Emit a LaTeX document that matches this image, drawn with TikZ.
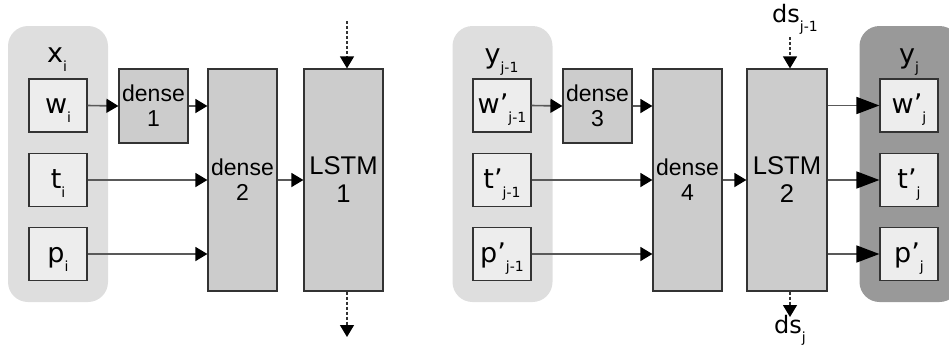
\documentclass[tikz,border=0pt]{standalone}
\usepackage{fontspec}
\setmainfont{Liberation Sans}
\newfontfamily\dejavu{DejaVu Sans}
\usetikzlibrary{arrows.meta}

\newcommand{\lo}[1]{\raisebox{-4.5pt}{\fontsize{7}{8}\selectfont #1}}

\tikzset{
	group/.style={rounded corners=10pt, minimum width=50pt, minimum height=138pt, inner sep=0pt},
	tag/.style={anchor=base, inner sep=0pt, font=\dejavu\fontsize{13.5}{15}\selectfont},
	var/.style={draw=black!80, fill=black!7, line width=0.6pt, minimum width=29pt, minimum height=26.5pt, inner sep=0pt, text height=9pt, text depth=1pt, font=\dejavu\fontsize{13.5}{15}\selectfont},
	layer/.style={draw=black!80, fill=black!20, line width=0.6pt, inner sep=0pt, align=center, font=\fontsize{11.5}{12.5}\selectfont},
	feed/.style={draw=black!65, line width=0.8pt, -{Triangle[length=6pt, width=7pt, color=black]}},
	emit/.style={draw=black!65, line width=0.8pt, -{Triangle[length=11.5pt, width=8.5pt, color=black]}},
	state/.style={draw=black!80, line width=0.6pt, dash pattern=on 1.5pt off 1pt, -{Triangle[length=6pt, width=7pt, color=black]}}
}

\begin{document}
\begin{tikzpicture}[x=0.5pt, y=-0.5pt]
			\clip[use as bounding box] (0,0) rectangle (949,360);
			
			% encoder side
			\node[group, fill=black!13] (X) at (58,164) {};
			\node[tag] (xl) at (57,62) {x\lo{i}};
			\node[var] (w0) at (58,105.5) {w\lo{i}};
			\node[var] (t0) at (58,180) {t\lo{i}};
			\node[var] (p0) at (58,254) {p\lo{i}};
			
			\node[layer, minimum width=34.5pt, minimum height=37pt] (d1) at (153.5,106) {dense\\1};
			\node[layer, minimum width=34.5pt, minimum height=111pt] (d2) at (242.5,180) {dense\\2};
			\node[layer, minimum width=39.5pt, minimum height=111pt, font=\fontsize{12.8}{14}\selectfont] (L1) at (343.5,180) {LSTM\\1};
			
			\draw[feed] (w0.east) -- (d1.west);
			\draw[feed] (d1.east) -- (d1.east -| d2.west);
			\draw[feed] (t0.east) -- (t0.east -| d2.west);
			\draw[feed] (p0.east) -- (p0.east -| d2.west);
			\draw[feed] (d2.east) -- (L1.west);
			
			\coordinate (s0) at (347,21);
			\coordinate (s1) at (347,337);
			\draw[state] (s0) -- (s0 |- L1.north);
			\draw[state] (s1 |- L1.south) -- (s1);
			
			% decoder side
			\node[group, fill=black!13] (Y) at (502.5,164) {};
			\node[tag] (yl) at (501.5,63) {y\lo{j-1}};
			\node[var] (w1) at (502,105.5) {w’\lo{j-1}};
			\node[var] (t1) at (502,180) {t’\lo{j-1}};
			\node[var] (p1) at (502,254) {p’\lo{j-1}};
			
			\node[layer, minimum width=34.5pt, minimum height=37pt] (d3) at (597.5,106) {dense\\3};
			\node[layer, minimum width=34.5pt, minimum height=111pt] (d4) at (687.5,180) {dense\\4};
			\node[layer, minimum width=40pt, minimum height=111pt, font=\fontsize{12.8}{14}\selectfont] (L2) at (787,180) {LSTM\\2};
			
			\node[group, fill=black!40] (Z) at (909.5,164) {};
			\node[tag] (zl) at (909,63) {y\lo{j}};
			\node[var] (w2) at (909,105.5) {w’\lo{j}};
			\node[var] (t2) at (909,180) {t’\lo{j}};
			\node[var] (p2) at (909,254) {p’\lo{j}};
			
			\draw[feed] (w1.east) -- (d3.west);
			\draw[feed] (d3.east) -- (d3.east -| d4.west);
			\draw[feed] (t1.east) -- (t1.east -| d4.west);
			\draw[feed] (p1.east) -- (p1.east -| d4.west);
			\draw[feed] (d4.east) -- (L2.west);
			
			\draw[emit] (L2.east |- w2.west) -- (w2.west);
			\draw[emit] (L2.east |- t2.west) -- (t2.west);
			\draw[emit] (L2.east |- p2.west) -- (p2.west);
			
			\node[tag, font=\dejavu\fontsize{12}{14}\selectfont] (ds0) at (795,22) {ds\lo{j-1}};
			\node[tag, font=\dejavu\fontsize{12}{14}\selectfont] (ds1) at (790,333) {ds\lo{j}};
			\coordinate (s2) at (790,37);
			\coordinate (s3) at (790,317);
			\draw[state] (s2) -- (s2 |- L2.north);
			\draw[state] (s3 |- L2.south) -- (s3);
			
		\end{tikzpicture}
\end{document}
